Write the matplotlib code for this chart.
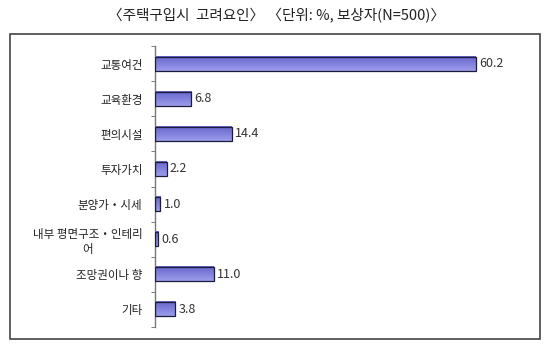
import matplotlib
matplotlib.use("Agg")
import matplotlib.pyplot as plt
import matplotlib.patches as patches
import numpy as np

plt.rcParams['font.family'] = ['Noto Sans CJK KR', 'DejaVu Sans']

categories = ["교통여건", "교육환경", "편의시설", "투자가치", "분양가・시세",
              "내부 평면구조・인테리\n어", "조망권이나 향", "기타"]
values = [60.2, 6.8, 14.4, 2.2, 1.0, 0.6, 11.0, 3.8]

fig = plt.figure(figsize=(5.5, 3.59), dpi=100)

# outer frame
frame = patches.Rectangle((10/550, 1-339/359), 530/550, 305/359, transform=fig.transFigure,
                          fill=False, edgecolor='#444444', linewidth=1.2)
fig.patches.append(frame)

fig.text(0.502, 1-16/359, "〈주택구입시  고려요인〉 〈단위: %, 보상자(N=500)〉",
         ha='center', va='center', fontsize=10.5, color='#222222')

ax = fig.add_axes([155/550, 32/359, 373/550, 281/359])
y = np.arange(len(categories))
bars = ax.barh(y, values, height=0.4, color='#8080dc', edgecolor='#1c1c3c', linewidth=0.9)

# soft vertical gradient on each bar
cmap = matplotlib.colors.LinearSegmentedColormap.from_list('p', ['#6666cc', '#9c9cec'])
grad = np.linspace(0.0, 1.0, 50).reshape(-1, 1)
for b in bars:
    x0, y0 = b.get_x(), b.get_y()
    w, h = b.get_width(), b.get_height()
    ax.imshow(grad, extent=[x0, x0 + w, y0 + h, y0], aspect='auto',
              cmap=cmap, vmin=0, vmax=1, zorder=2)
    b.set_zorder(3)
    b.set_facecolor('none')

for i, v in enumerate(values):
    ax.text(v + 0.6, i, f"{v:.1f}", va='center', ha='left', fontsize=9, color='#333333')

ax.set_ylim(len(categories) - 0.5, -0.5)
ax.set_xlim(0, 70)
ax.set_yticks(y)
ax.set_yticklabels(categories, fontsize=8.3, color='#222222', multialignment='center')
ax.set_yticks(np.arange(-0.5, len(categories), 1), minor=True)
ax.tick_params(axis='y', which='major', length=0, pad=9)
ax.tick_params(axis='y', which='minor', length=3, color='#666666', direction='out')
ax.set_xticks([])
for s in ['top', 'right', 'bottom']:
    ax.spines[s].set_visible(False)
ax.spines['left'].set_color('#777777')
ax.spines['left'].set_linewidth(1.0)
ax.patch.set_alpha(0)

fig.savefig("out.png", dpi=100)
